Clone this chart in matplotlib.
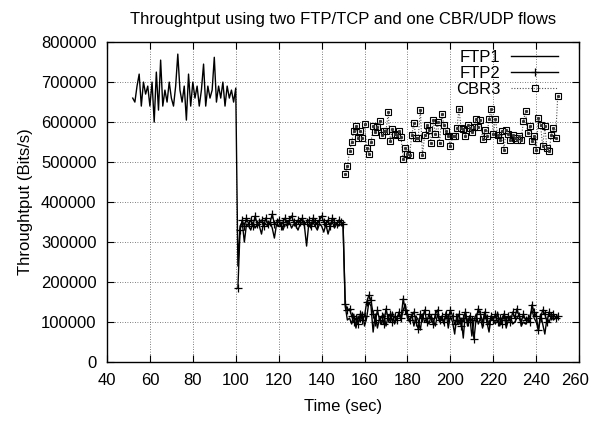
import numpy as np
import matplotlib
matplotlib.use("Agg")
import matplotlib.pyplot as plt
import matplotlib.transforms as mtransforms

plt.rcParams["font.family"] = ["Liberation Sans", "DejaVu Sans"]

# ............................................
# DATA
# ............................................
ftp1_time = list(range(52, 251))
ftp1_rate = [
    # 52 - 100 : FTP1 alone
    660000, 650000, 690000, 720000, 640000, 700000, 670000, 690000, 640000, 700000,
    600000, 725000, 630000, 755000, 640000, 680000, 650000, 700000, 660000, 640000,
    690000, 770000, 680000, 650000, 690000, 605000, 720000, 640000, 700000, 660000,
    690000, 640000, 680000, 745000, 640000, 690000, 660000, 680000, 762000, 650000,
    690000, 660000, 700000, 640000, 690000, 660000, 680000, 650000, 685000,
    # 101 - 150 : shared with FTP2
    240000,
    340000, 350000, 300000, 345000, 340000, 330000, 350000, 335000, 345000, 340000,
    320000, 350000, 345000, 340000, 350000, 335000, 310000, 345000, 340000, 350000,
    330000, 345000, 340000, 350000, 335000, 345000, 340000, 330000, 345000, 350000,
    340000, 290000, 345000, 335000, 350000, 340000, 330000, 345000, 340000, 325000,
    345000, 320000, 340000, 350000, 335000, 345000, 340000, 345000, 340000,
    # 151 - 250 : shared with FTP2 and CBR3
    140000, 105000, 110000, 95000, 120000, 85000, 115000, 100000, 125000, 90000,
    110000, 150000, 140000, 75000, 120000, 85000, 110000, 95000, 120000, 90000,
    115000, 100000, 125000, 95000, 110000, 120000, 105000, 130000, 145000, 110000,
    100000, 120000, 90000, 115000, 105000, 80000, 120000, 100000, 110000, 95000,
    115000, 105000, 90000, 120000, 100000, 110000, 95000, 125000, 85000, 115000,
    100000, 70000, 120000, 95000, 110000, 60000, 125000, 90000, 115000, 65000,
    105000, 120000, 95000, 110000, 85000, 120000, 100000, 75000, 115000, 105000,
    95000, 125000, 90000, 110000, 120000, 85000, 105000, 115000, 95000, 100000,
    110000, 120000, 90000, 100000, 95000, 105000, 115000, 130000, 110000, 100000,
    80000, 120000, 95000, 70000, 110000, 100000, 115000, 105000, 110000, 112000,
]

ftp2_time = list(range(101, 251))
ftp2_rate = [
    185000,
    330000, 355000, 340000, 360000, 345000, 355000, 340000, 365000, 345000, 350000,
    355000, 340000, 360000, 345000, 350000, 370000, 345000, 350000, 355000, 340000,
    350000, 360000, 345000, 355000, 365000, 350000, 345000, 355000, 350000, 360000,
    345000, 350000, 355000, 340000, 360000, 350000, 345000, 355000, 365000, 350000,
    345000, 355000, 340000, 360000, 350000, 345000, 355000, 350000, 345000,
    145000, 130000, 133000, 115000, 100000, 110000, 95000, 120000, 105000, 115000,
    150000, 167000, 154000, 120000, 100000, 130000, 105000, 115000, 95000, 133000,
    110000, 120000, 100000, 115000, 105000, 125000, 110000, 158000, 130000, 120000,
    105000, 115000, 125000, 100000, 83000, 120000, 110000, 130000, 100000, 120000,
    110000, 95000, 120000, 130000, 105000, 115000, 100000, 120000, 110000, 130000,
    115000, 95000, 105000, 120000, 90000, 110000, 125000, 100000, 115000, 105000,
    58000, 110000, 133000, 120000, 100000, 125000, 110000, 95000, 115000, 105000,
    120000, 100000, 110000, 95000, 120000, 105000, 115000, 100000, 125000, 110000,
    133000, 115000, 100000, 120000, 105000, 110000, 100000, 143000, 125000, 115000,
    79000, 110000, 130000, 120000, 100000, 125000, 115000, 120000, 110000, 115000,
]

cbr3_time = list(range(151, 251))
cbr3_rate = [
    470000, 489000, 527000, 550000, 578000, 589000, 560000, 578000, 560000, 596000,
    535000, 521000, 549000, 589000, 574000, 587000, 603000, 568000, 578000, 578000,
    624000, 552000, 582000, 570000, 568000, 577000, 562000, 508000, 535000, 521000,
    518000, 568000, 597000, 560000, 560000, 631000, 517000, 567000, 592000, 581000,
    548000, 604000, 570000, 600000, 548000, 620000, 593000, 577000, 564000, 539000,
    564000, 564000, 585000, 632000,
    585000, 583000, 564000, 593000, 585000, 574000, 587000, 607000, 587000, 606000,
    558000, 579000, 564000, 607000, 632000, 571000, 607000, 568000, 556000, 577000,
    531000, 581000, 570000, 556000, 568000, 560000, 556000, 564000, 556000, 602000,
    627000, 572000, 589000, 552000, 564000, 531000, 610000, 593000, 539000, 589000,
    535000, 527000, 567000, 585000, 560000, 664000,
]

x_ticks = list(range(40, 261, 20))
y_ticks = list(range(0, 800001, 100000))

# ............................................
# FIGURE
# ............................................
fs = 12
fig = plt.figure(figsize=(5.91, 4.21), dpi=100)
ax = fig.add_axes([0.181, 0.140, 0.799, 0.760])

ax.plot(ftp1_time, ftp1_rate, color="black", lw=1.0, label="FTP1")
ax.plot(ftp2_time, ftp2_rate, color="black", lw=1.0, marker="+",
        markersize=5.5, markeredgewidth=0.9, label="FTP2")
ax.plot(cbr3_time, cbr3_rate, color="#505050", lw=0.8, linestyle=(0, (1, 1.5)),
        marker="s", markersize=4.6, markerfacecolor="none",
        markeredgecolor="black", markeredgewidth=0.8, label="CBR3")
# gnuplot draws a small dot in the middle of each box
ax.plot(cbr3_time, cbr3_rate, ls="none", marker="s", markersize=1.2,
        color="#333333")

ax.set_xlim(40, 260)
ax.set_ylim(0, 800000)
ax.set_xticks(x_ticks)
ax.set_yticks(y_ticks)
ax.set_yticklabels([str(v) for v in y_ticks])

ax.grid(True, color="#555555", linestyle=(0, (1, 2)), lw=0.6)
ax.tick_params(direction="in", length=5, width=0.8, top=True, right=True,
               labelsize=fs)
ax.tick_params(axis="x", pad=8)
ax.tick_params(axis="y", pad=7.5)
for s in ax.spines.values():
    s.set_linewidth(1.0)

# keep the last x label inside the canvas
last = ax.get_xticklabels()[-1]
last.set_transform(last.get_transform()
                   + mtransforms.ScaledTranslation(-4 / 100, 0, fig.dpi_scale_trans))

ax.set_title("Throughtput using two FTP/TCP and one CBR/UDP flows",
             fontsize=fs, pad=13)
ax.set_xlabel("Time (sec)", fontsize=fs, labelpad=8)
ax.set_ylabel("Throughtput (Bits/s)", fontsize=fs, labelpad=6)

leg = ax.legend(loc="upper right", bbox_to_anchor=(0.955, 0.975),
                frameon=False, markerfirst=False,
                fontsize=fs, handlelength=2.8, handletextpad=0.65,
                labelspacing=0.05, borderaxespad=0.0, borderpad=0.0)
for t in leg.get_texts():
    t.set_ha("right")

fig.savefig("out.png", dpi=100)
